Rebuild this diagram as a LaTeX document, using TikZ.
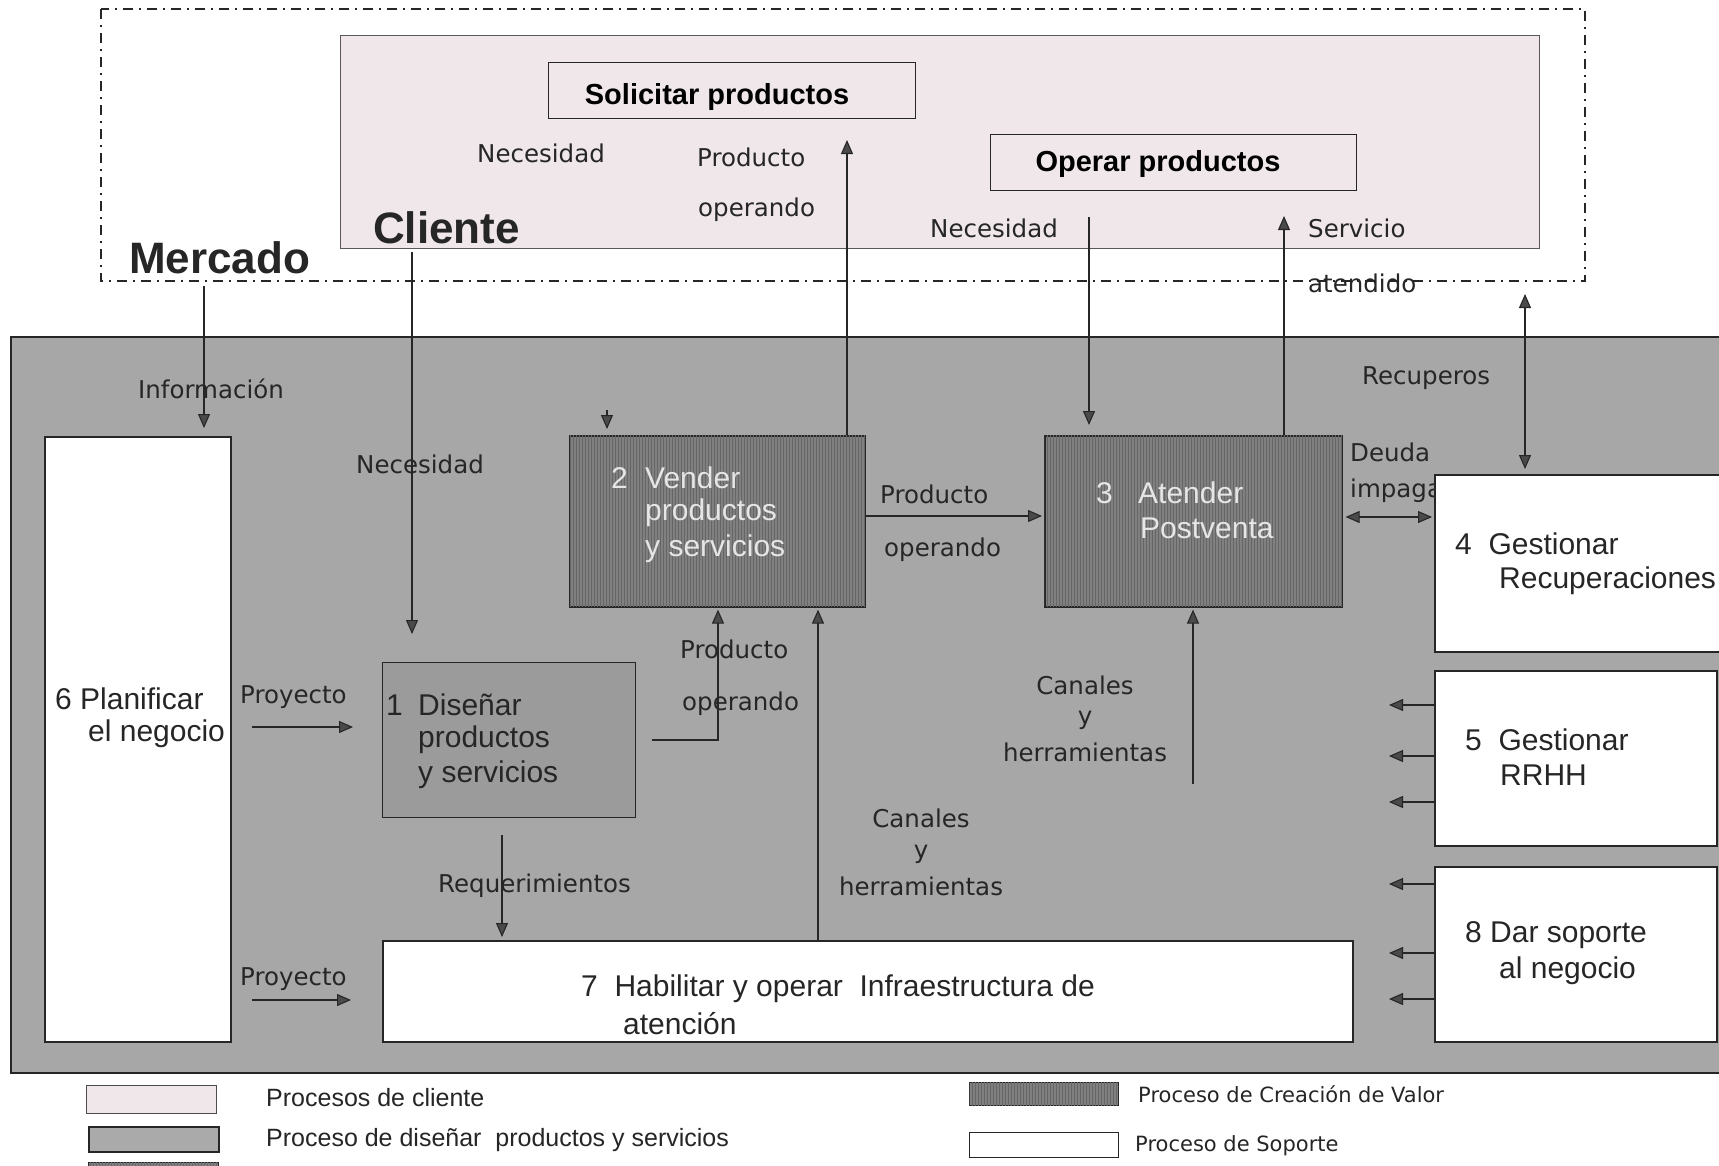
\documentclass[tikz,border=0pt]{standalone}
\usepackage{fontspec}
\setmainfont{Liberation Sans}
\newfontfamily\labfamily{DejaVu Sans}
\usetikzlibrary{arrows.meta,calc,patterns}

\definecolor{bgwhite}{HTML}{FFFFFF}
\definecolor{clientpink}{HTML}{F0E7EA}
\definecolor{areagray}{HTML}{A7A7A7}
\definecolor{valuegray}{HTML}{808080}
\definecolor{stripegray}{HTML}{666666}
\definecolor{designgray}{HTML}{9B9B9B}
\definecolor{inkdark}{HTML}{262626}
\definecolor{tipgray}{HTML}{4A4A4A}
\definecolor{lightink}{HTML}{E6E6E6}

\newcommand\hdfont{\fontsize{44}{48}\selectfont\bfseries}
\newcommand\bxtitle{\fontsize{29}{32}\selectfont\bfseries}
\newcommand\bxfont{\fontsize{30}{34}\selectfont}
\newcommand\lbfont{\labfamily\fontsize{24.5}{28}\selectfont}
\newcommand\lgfont{\fontsize{25}{28}\selectfont}
\newcommand\lgfontb{\labfamily\fontsize{21}{24}\selectfont}

\begin{document}
\begin{tikzpicture}[x=1pt,y=-1pt,
  frame/.style={draw=inkdark, line width=1.6pt, anchor=north west, inner sep=0pt},
  valuebox/.style={frame, fill=valuegray, postaction={pattern=vertical lines, pattern color=stripegray}},
  lab/.style={font=\lbfont, text=inkdark, inner sep=0pt},
  btx/.style={font=\bxfont, text=inkdark, inner sep=0pt, anchor=west},
  vtx/.style={font=\bxfont, text=lightink, inner sep=0pt, anchor=west},
  flow/.style={draw=inkdark, line width=1.1pt, -{Triangle[length=14pt,width=12pt,fill=tipgray]}},
  flow2/.style={draw=inkdark, line width=1.1pt, {Triangle[length=14pt,width=12pt,fill=tipgray]}-{Triangle[length=14pt,width=12pt,fill=tipgray]}}
]
\useasboundingbox (0,0) rectangle (1719,1165);
\fill[bgwhite] (0,0) rectangle (1719,1165);

% ---------- market area and client ----------
\draw[inkdark, line width=1.6pt, dash pattern=on 10pt off 6pt on 2pt off 6pt]
  (101,9) rectangle (1585,281);
\node[frame, draw=gray!70!black, line width=1.3pt, fill=clientpink,
  minimum width=1199pt, minimum height=213pt] (cli) at (340,35) {};
\node[frame, line width=1.4pt, fill=clientpink, minimum width=367pt, minimum height=56pt] (sol) at (548,62) {};
\node[font=\bxtitle, inner sep=0pt] (solt) at (717,97) {Solicitar productos};
\node[frame, line width=1.4pt, fill=clientpink, minimum width=366pt, minimum height=56pt] (ope) at (990,134) {};
\node[font=\bxtitle, inner sep=0pt] (opet) at (1158,164) {Operar productos};
\node[font=\hdfont, inner sep=0pt, anchor=west, text=inkdark] (merc) at (129,258) {Mercado};
\node[font=\hdfont, inner sep=0pt, anchor=west, text=inkdark] (clit) at (373,228) {Cliente};

\node[lab, anchor=west] (nec1) at (477,153) {Necesidad};
\node[lab, anchor=west] (pro1) at (697,157) {Producto};
\node[lab, anchor=west] (opd1) at (698,210) {operando};
\node[lab, anchor=west] (nec2) at (930,228) {Necesidad};
\node[lab, anchor=west] (ser1) at (1308,228) {Servicio};
\node[lab, anchor=west] (ate1) at (1308,283) {atendido};

% ---------- organisation area ----------
\fill[areagray] (11,337) rectangle (1725,1073);
\draw[inkdark, line width=2pt] (1725,337) -- (11,337) -- (11,1073) -- (1725,1073);

\node[frame, fill=white, minimum width=186pt, minimum height=605pt] (b6) at (44,436) {};
\node[valuebox, minimum width=295pt, minimum height=171pt] (b2) at (569,435) {};
\node[valuebox, minimum width=297pt, minimum height=171pt] (b3) at (1044,435) {};
\node[frame, fill=designgray, line width=1.3pt, minimum width=253pt, minimum height=155pt] (b1) at (382,662) {};
\node[frame, fill=white, minimum width=970pt, minimum height=101pt] (b7) at (382,940) {};

% flow labels
\node[lab, anchor=west] (inf) at (138,389) {Información};
\node[lab, anchor=west] (nec3) at (356,464) {Necesidad};
\node[lab, anchor=west] (rec) at (1362,378) {Recuperos};
\node[lab, anchor=west] (deu) at (1350,452) {Deuda};
\node[lab, anchor=west] (imp) at (1350,491) {impaga};
\node[lab, anchor=west] (pro2) at (880,494) {Producto};
\node[lab, anchor=west] (opd2) at (884,550) {operando};
\node[lab, anchor=west] (pro3) at (680,649) {Producto};
\node[lab, anchor=west] (opd3) at (682,704) {operando};
\node[lab] (can1) at (1085,685) {Canales};
\node[lab] (yy1) at (1085,720) {y};
\node[lab] (her1) at (1085,752) {herramientas};
\node[lab] (can2) at (921,818) {Canales};
\node[lab] (yy2) at (921,854) {y};
\node[lab] (her2) at (921,886) {herramientas};
\node[lab, anchor=west] (pry1) at (240,697) {Proyecto};
\node[lab, anchor=west] (pry2) at (240,979) {Proyecto};
\node[lab, anchor=west] (req) at (438,886) {Requerimientos};

% support boxes (box 4 covers the end of the debt label)
\node[frame, fill=white, minimum width=290pt, minimum height=177pt] (b4) at (1434,474) {};
\node[frame, fill=white, minimum width=282pt, minimum height=175pt] (b5) at (1434,670) {};
\node[frame, fill=white, minimum width=282pt, minimum height=175pt] (b8) at (1434,866) {};

% box captions
\node[btx] (t6a) at (55,699) {6 Planificar};
\node[btx] (t6b) at (88,734) {el negocio};
\node[btx] (t1n) at (386,705) {1};
\node[btx] (t1a) at (418,705) {Diseñar};
\node[btx] (t1b) at (418,740) {productos};
\node[btx] (t1c) at (418,775) {y servicios};
\node[vtx] (t2n) at (611,478) {2};
\node[vtx] (t2a) at (645,478) {Vender};
\node[vtx] (t2b) at (645,513) {productos};
\node[vtx] (t2c) at (645,549) {y servicios};
\node[vtx] (t3n) at (1096,493) {3};
\node[vtx] (t3a) at (1138,493) {Atender};
\node[vtx] (t3b) at (1140,528) {Postventa};
\node[btx] (t4a) at (1455,544) {4\ \ Gestionar};
\node[btx] (t4b) at (1499,581) {Recuperaciones};
\node[btx] (t5a) at (1465,740) {5\ \ Gestionar};
\node[btx] (t5b) at (1500,775) {RRHH};
\node[btx] (t8a) at (1465,935) {8 Dar soporte};
\node[btx] (t8b) at (1499,971) {al negocio};
\node[btx] (t7a) at (581,989) {7\ \ Habilitar y operar\ \ Infraestructura de};
\node[btx] (t7b) at (623,1024) {atención};

% ---------- connectors ----------
\coordinate (infA) at (204,286);
\draw[flow] (infA) -- ([yshift=8pt]b6.north -| infA);
\coordinate (necA) at (412,252);
\draw[flow] (necA) -- ([yshift=28pt]b1.north -| necA);
\coordinate (venA) at (607,410);
\draw[flow] (venA) -- ([yshift=6pt]b2.north -| venA);
\coordinate (pouA) at (847,140);
\draw[flow] (b2.north -| pouA) -- (pouA);
\coordinate (opeA) at (1089,217);
\draw[flow] (opeA) -- ([yshift=10pt]b3.north -| opeA);
\coordinate (serA) at (1284,216);
\draw[flow] (b3.north -| serA) -- (serA);
\coordinate (recA) at (1525,294);
\draw[flow2] (recA) -- ([yshift=5pt]b4.north -| recA);
\draw[flow] (b2.east |- 0,516) -- ([xshift=-2pt]b3.west |- 0,516);
\draw[flow2] ([xshift=3pt]b3.east |- 0,517) -- ([xshift=-2pt]b4.west |- 0,517);
\draw[flow] ([xshift=20pt]b6.east |- 0,727) -- ([xshift=-29pt]b1.west |- 0,727);
\draw[flow] ([xshift=20pt]b6.east |- 0,1000) -- ([xshift=-31pt]b7.west |- 0,1000);
\coordinate (dsA) at (652,740);
\coordinate (dsB) at (718,740);
\draw[flow] (dsA) -- (dsB) -- ([yshift=-2pt]b2.south -| dsB);
\coordinate (infB) at (818,0);
\draw[flow] (b7.north -| infB) -- ([yshift=-2pt]b2.south -| infB);
\coordinate (chA) at (1193,784);
\draw[flow] (chA) -- ([yshift=-2pt]b3.south -| chA);
\coordinate (rqA) at (502,835);
\draw[flow] (rqA) -- ([yshift=3pt]b7.north -| rqA);
\foreach \yy/\bx in {705/b5,756/b5,802/b5,884/b8,953/b8,999/b8}{
  \draw[flow] (\bx.west |- 0,\yy) -- ([xshift=-45pt]\bx.west |- 0,\yy);
}

% ---------- legend ----------
\node[frame, draw=gray!60!black, fill=clientpink, line width=1.4pt, minimum width=130pt, minimum height=28pt] (lg1) at (86,1085) {};
\node[frame, fill=designgray!85!white, line width=1.8pt, minimum width=130pt, minimum height=25pt] (lg2) at (88,1126) {};
\node[valuebox, line width=1.2pt, minimum width=130pt, minimum height=20pt] (lg3) at (88,1162) {};
\node[valuebox, line width=1.2pt, minimum width=149pt, minimum height=23pt] (lg4) at (969,1082) {};
\node[frame, fill=white, line width=1.4pt, minimum width=149pt, minimum height=25pt] (lg5) at (969,1132) {};
\node[font=\lgfont, text=inkdark, inner sep=0pt, anchor=west] (lt1) at (266,1098) {Procesos de cliente};
\node[font=\lgfont, text=inkdark, inner sep=0pt, anchor=west] (lt2) at (266,1140) {Proceso de diseñar\ \ productos y servicios};
\node[font=\lgfontb, text=inkdark, inner sep=0pt, anchor=west] (lt4) at (1138,1094) {Proceso de Creación de Valor};
\node[font=\lgfontb, text=inkdark, inner sep=0pt, anchor=west] (lt5) at (1135,1146) {Proceso de Soporte};
\end{tikzpicture}
\end{document}
